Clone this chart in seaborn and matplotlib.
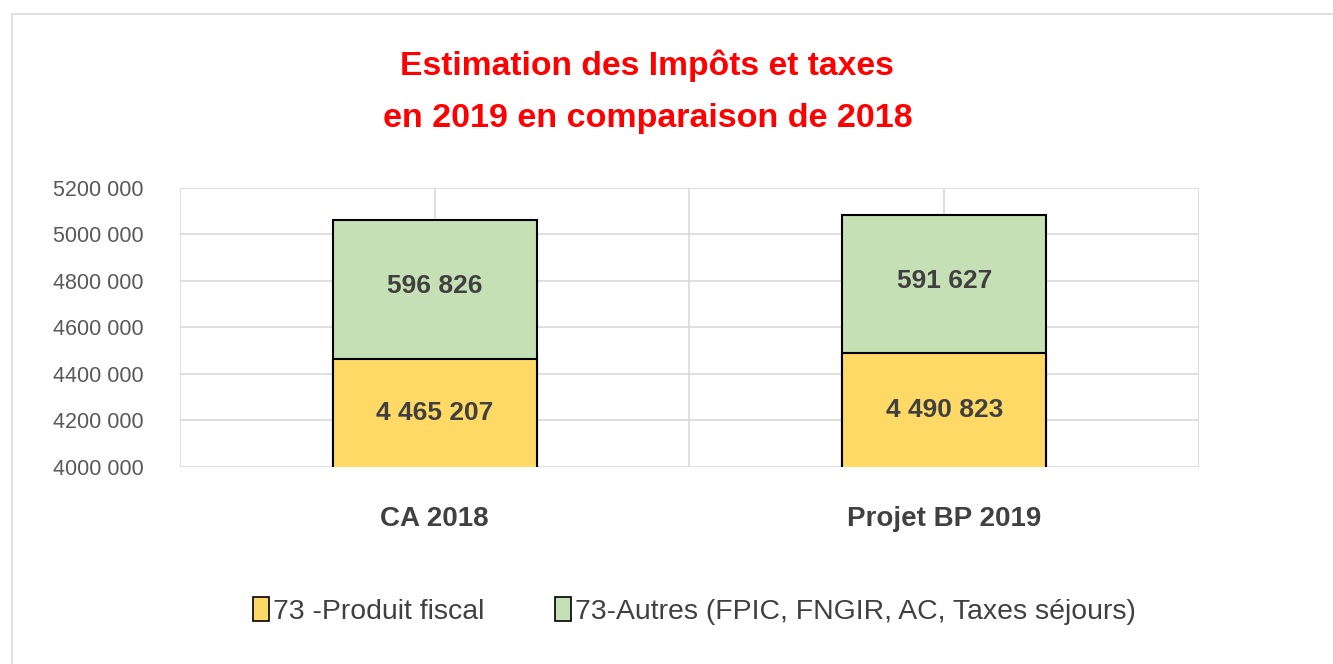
import pandas as pd
import seaborn as sns
import matplotlib.pyplot as plt
from matplotlib.patches import Patch, Rectangle
from matplotlib.ticker import FuncFormatter

# Data
categories = ['CA 2018', 'Projet BP 2019']
produit_fiscal = [4465207, 4490823]
autres = [596826, 591627]
series_names = ['73 -Produit fiscal', '73-Autres (FPIC, FNGIR, AC, Taxes séjours)']
y_ticks = [4000000, 4200000, 4400000, 4600000, 4800000, 5000000, 5200000]

df = pd.DataFrame({'cat': categories, 'fiscal': produit_fiscal, 'autres': autres})
df['total'] = df['fiscal'] + df['autres']

sns.set_style('white')
plt.rcParams['font.family'] = ['Liberation Sans', 'DejaVu Sans']

yellow = '#FFD966'
green = '#C5E0B4'

fig = plt.figure(figsize=(13.33, 6.64), dpi=100)
ax = fig.add_axes([0.135, 0.2967, 0.7645, 0.4202])

# Stacked bars: total first (green), then fiscal on top of it (yellow)
sns.barplot(data=df, x='cat', y='total', color=green, width=0.4, edgecolor='black',
            linewidth=1.5, saturation=1, ax=ax, zorder=3)
sns.barplot(data=df, x='cat', y='fiscal', color=yellow, width=0.4, edgecolor='black',
            linewidth=1.5, saturation=1, ax=ax, zorder=3)

ax.set_ylim(4000000, 5200000)
ax.set_xlim(-0.5, 1.5)
ax.set_yticks(y_ticks)
ax.yaxis.set_major_formatter(FuncFormatter(lambda v, p: f'{int(v/1000)} 000'))
ax.grid(axis='y', color='#D9D9D9', linewidth=1.2, zorder=0)
for xv in [-0.5, 0, 0.5, 1, 1.5]:
    ax.axvline(xv, color='#D9D9D9', linewidth=1.2, zorder=0)
for s in ax.spines.values():
    s.set_visible(False)

ax.set_xlabel('')
ax.set_ylabel('')
ax.tick_params(axis='y', labelsize=15.5, colors='#595959', length=0)
ax.tick_params(axis='x', labelsize=20, colors='#404040', length=0, pad=28)
for lab in ax.get_xticklabels():
    lab.set_fontweight('bold')
for lab in ax.get_yticklabels():
    lab.set_horizontalalignment('left')
    lab.set_x(-0.12)

def fmt(v):
    return f'{v:,}'.replace(',', ' ')

for i in range(len(categories)):
    ax.text(i, 4000000 + (produit_fiscal[i] - 4000000) / 2, fmt(produit_fiscal[i]),
            ha='center', va='center', fontsize=19, fontweight='bold', color='#404040', zorder=5)
    ax.text(i, produit_fiscal[i] + autres[i] / 2 + 15000, fmt(autres[i]),
            ha='center', va='center', fontsize=19, fontweight='bold', color='#404040', zorder=5)

fig.text(0.485, 0.9015, 'Estimation des Impôts et taxes', ha='center', va='center',
         fontsize=24.2, fontweight='bold', color='#FF0000')
fig.text(0.486, 0.8215, 'en 2019 en comparaison de 2018', ha='center', va='center',
         fontsize=24.5, fontweight='bold', color='#FF0000')

handles = [Patch(facecolor=yellow, edgecolor='black', linewidth=1.2),
           Patch(facecolor=green, edgecolor='black', linewidth=1.2)]
fig.legend(handles, series_names, loc='center', bbox_to_anchor=(0.521, 0.08), ncol=2,
           frameon=False, fontsize=20.4, labelcolor='#404040', handlelength=0.55,
           handleheight=0.9, handletextpad=0.15, columnspacing=2.5)

fig.patches.append(Rectangle((0.009, -0.1), 1.2, 1.079, transform=fig.transFigure,
                             fill=False, edgecolor='#D9D9D9', linewidth=1.2))

fig.savefig('out.png', dpi=100)
